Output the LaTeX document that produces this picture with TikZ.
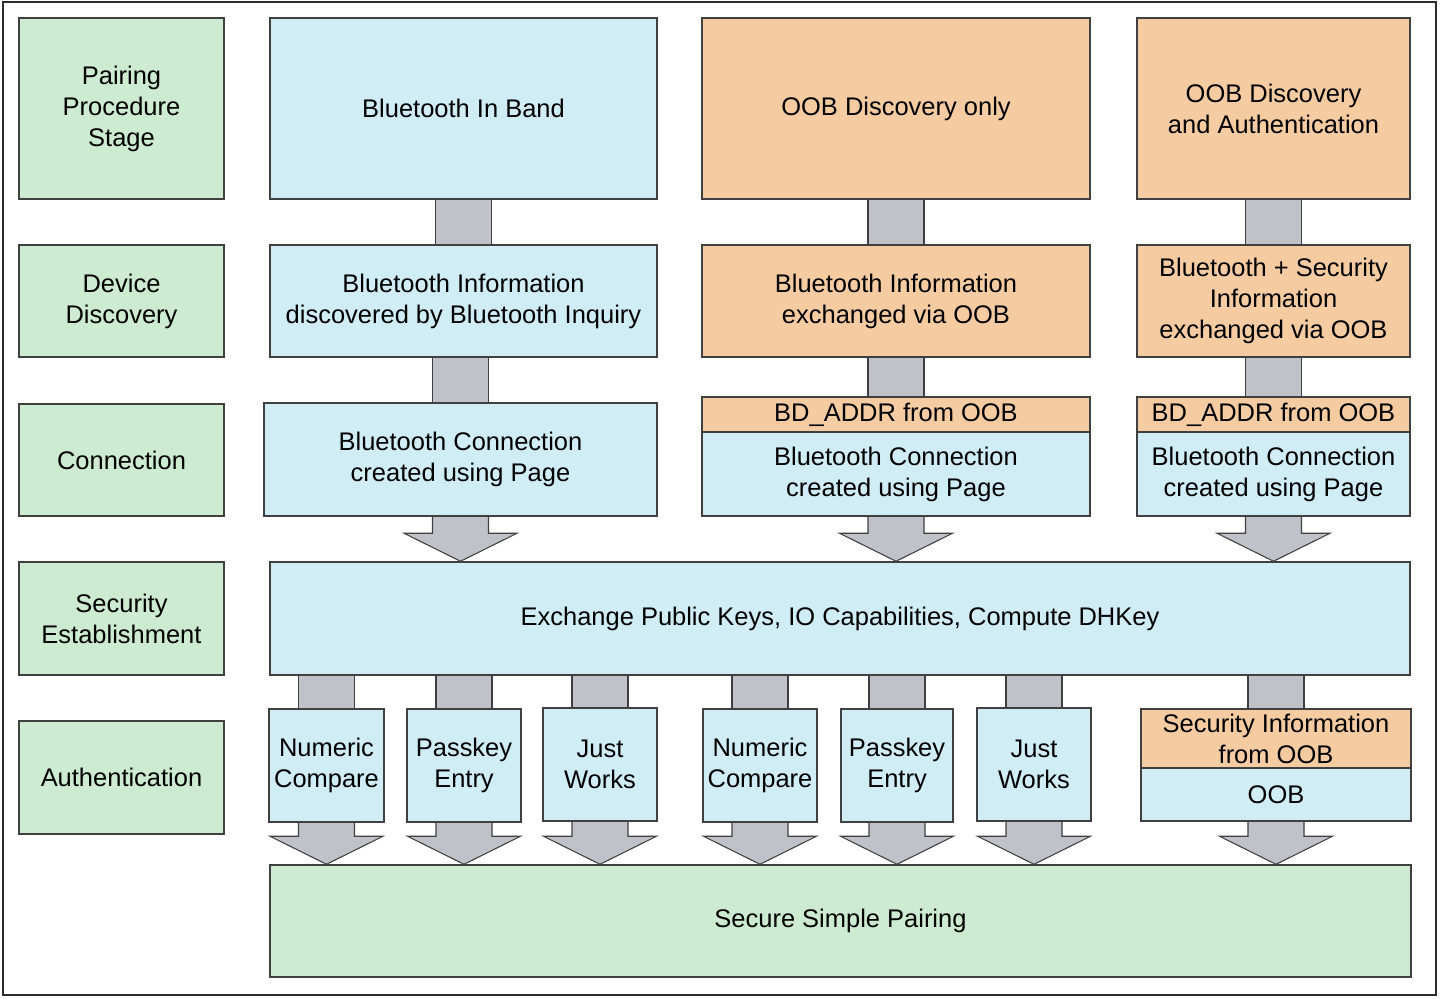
\documentclass[tikz,border=0pt]{standalone}
\usepackage{fontspec}
\setmainfont{Liberation Sans}
\usepackage{tikz}
\usetikzlibrary{positioning,calc}
\usepackage{xcolor}
\definecolor{sspgreen}{RGB}{205,235,208}
\definecolor{sspblue}{RGB}{208,237,245}
\definecolor{ssporange}{RGB}{245,204,161}
\definecolor{sspgrey}{RGB}{192,194,201}
\definecolor{sspline}{RGB}{64,64,64}
\tikzstyle{pipe} = [draw=sspline, fill=sspgrey, line width=0.6pt, line join=miter]
\pgfdeclarelayer{back}
\pgfsetlayers{back,main}

\begin{document}
\begin{tikzpicture}[
    box/.style={rectangle, draw=sspline, line width=0.85pt, inner sep=1pt, align=center, font=\fontsize{14.5}{17.6}\selectfont},
    greenbox/.style={box, fill=sspgreen, minimum width=4.1cm},
    bluebox/.style={box, fill=sspblue},
    orangebox/.style={box, fill=ssporange}]

\useasboundingbox (0,0) rectangle (28.8,-19.96);
\draw[line width=1.1pt, draw=sspline!70!black] (0.06,-0.04) rectangle (28.72,-19.9);

% Stage column
\node[greenbox, minimum height=3.62cm] (stage) at (2.43,-2.17) {Pairing\\Procedure\\Stage};
\node[greenbox, minimum height=2.24cm] (discovery) at (2.43,-6.02) {Device\\Discovery};
\node[greenbox, minimum height=2.24cm] (connection) at (2.43,-9.20) {Connection};
\node[greenbox, minimum height=2.26cm] (security) at (2.43,-12.37) {Security\\Establishment};
\node[greenbox, minimum height=2.26cm] (authentication) at (2.43,-15.55) {Authentication};

% Bluetooth in band
\node[bluebox, minimum width=7.74cm, minimum height=3.62cm] (inband) at (9.27,-2.17) {Bluetooth In Band};
\node[bluebox, minimum width=7.74cm, minimum height=2.24cm] (inquiry) at (9.27,-6.02) {Bluetooth Information\\discovered by Bluetooth Inquiry};
\node[bluebox, minimum width=7.86cm, minimum height=2.26cm] (pageA) at (9.21,-9.19) {Bluetooth Connection\\created using Page};

% OOB discovery only
\node[orangebox, minimum width=7.76cm, minimum height=3.62cm] (oobonly) at (17.92,-2.17) {OOB Discovery only};
\node[orangebox, minimum width=7.76cm, minimum height=2.24cm] (exchB) at (17.92,-6.02) {Bluetooth Information\\exchanged via OOB};
\node[orangebox, minimum width=7.76cm, minimum height=0.70cm] (addrB) at (17.92,-8.29) {BD\_ADDR from OOB};
\node[bluebox, minimum width=7.76cm, minimum height=1.68cm] (pageB) at (17.92,-9.48) {Bluetooth Connection\\created using Page};

% OOB discovery and authentication
\node[orangebox, minimum width=5.46cm, minimum height=3.62cm] (oobauth) at (25.47,-2.17) {OOB Discovery\\and Authentication};
\node[orangebox, minimum width=5.46cm, minimum height=2.24cm] (exchC) at (25.47,-6.02) {Bluetooth + Security\\Information\\exchanged via OOB};
\node[orangebox, minimum width=5.46cm, minimum height=0.70cm] (addrC) at (25.47,-8.29) {BD\_ADDR from OOB};
\node[bluebox, minimum width=5.46cm, minimum height=1.68cm] (pageC) at (25.47,-9.48) {Bluetooth Connection\\created using Page};

% Security establishment
\node[bluebox, minimum width=22.8cm, minimum height=2.26cm] (keys) at (16.80,-12.37) {Exchange Public Keys, IO Capabilities, Compute DHKey};

% Authentication methods
\node[bluebox, minimum width=2.30cm, minimum height=2.26cm] (numA) at (6.53,-15.31) {Numeric\\Compare};
\node[bluebox, minimum width=2.28cm, minimum height=2.26cm] (passA) at (9.28,-15.31) {Passkey\\Entry};
\node[bluebox, minimum width=2.28cm, minimum height=2.26cm] (justA) at (12.00,-15.29) {Just\\Works};
\node[bluebox, minimum width=2.28cm, minimum height=2.26cm] (numB) at (15.20,-15.31) {Numeric\\Compare};
\node[bluebox, minimum width=2.24cm, minimum height=2.26cm] (passB) at (17.94,-15.31) {Passkey\\Entry};
\node[bluebox, minimum width=2.28cm, minimum height=2.26cm] (justB) at (20.68,-15.29) {Just\\Works};
\node[orangebox, minimum width=5.40cm, minimum height=1.18cm] (secinfo) at (25.52,-14.77) {Security Information\\from OOB};
\node[bluebox, minimum width=5.40cm, minimum height=1.06cm] (oobcheck) at (25.52,-15.89) {OOB};

% Result
\node[greenbox, minimum width=22.82cm, minimum height=2.24cm] (ssp) at (16.81,-18.42) {Secure Simple Pairing};

\begin{pgfonlayer}{back}
% Pipes between boxes
\foreach \a/\b in {inband/inquiry, inquiry/pageA, oobonly/exchB, exchB/addrB, oobauth/exchC, exchC/addrC,
    keys/numA, keys/passA, keys/justA, keys/numB, keys/passB, keys/justB, keys/secinfo}
  \draw[pipe] ($(\b.north |- \a.south)+(-0.56,0)$) rectangle ($(\b.north)+(0.56,0)$);

% Pipes with heads
\foreach \a/\b in {pageA/keys, pageB/keys, pageC/keys, numA/ssp, passA/ssp, justA/ssp,
    numB/ssp, passB/ssp, justB/ssp, oobcheck/ssp}
  \draw[pipe] ($(\a.south)+(-0.56,0)$) -- ($(\a.south |- \b.north)+(-0.56,0.56)$)
    -- ($(\a.south |- \b.north)+(-1.13,0.56)$) -- (\a.south |- \b.north)
    -- ($(\a.south |- \b.north)+(1.13,0.56)$) -- ($(\a.south |- \b.north)+(0.56,0.56)$)
    -- ($(\a.south)+(0.56,0)$);
\end{pgfonlayer}

\end{tikzpicture}
\end{document}
